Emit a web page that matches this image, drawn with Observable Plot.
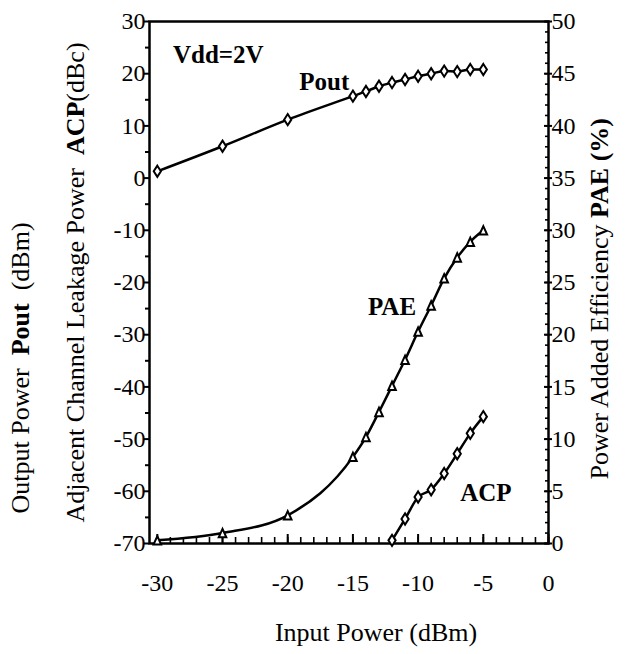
<!DOCTYPE html>
<html>
<head>
<meta charset="utf-8">
<script src="https://cdn.jsdelivr.net/npm/d3@7"></script>
<script src="https://cdn.jsdelivr.net/npm/@observablehq/plot@0.6"></script>
<style>
  html, body { margin: 0; padding: 0; background: #fff; }
  #chart { width: 629px; height: 654px; font-family: 'Liberation Serif'; }
  #chart svg, #chart svg text, #chart svg tspan { font-family: 'Liberation Serif' !important; }
</style>
</head>
<body>
<div id="chart"></div>
<script>
// ---- data ----
const inputPower = [-30, -25, -20, -15, -14, -13, -12, -11, -10, -9, -8, -7, -6, -5];
const poutValues = [1.3, 6.1, 11.2, 15.7, 16.6, 17.6, 18.3, 18.9, 19.5, 20.0, 20.5, 20.4, 20.8, 20.8];
const paeValues  = [0.3, 1.0, 2.7, 8.3, 10.2, 12.6, 15.1, 17.6, 20.3, 22.8, 25.4, 27.4, 28.9, 30.0];
const acpInput   = [-12, -11, -10, -9, -8, -7, -6, -5];
const acpValues  = [-69.4, -65.3, -61.1, -59.7, -56.6, -52.8, -48.9, -45.7];

const xTicks     = [-30, -25, -20, -15, -10, -5, 0];
const leftTicks  = [-70, -60, -50, -40, -30, -20, -10, 0, 10, 20, 30];
const paeTicks   = [0, 5, 10, 15, 20, 25, 30, 35, 40, 45, 50];

const labelText = ["Vdd=2V", "Pout", "PAE", "ACP"];
const labelX    = [-28.8, -17.2, -12.0, -4.8];
const labelY    = [23.5, 18.4, -24.7, -60.4];
const labelAnchor = ["start", "middle", "middle", "middle"];

// title pieces: [text, bold]
const leftTitle1 = [["Output Power  ", false], ["Pout", true], ["  (dBm)", false]];
const leftTitle2 = [["Adjacent Channel Leakage Power  ", false], ["ACP", true], ["(dBc)", false]];
const rightTitle = [["Power Added Efficiency ", false], ["PAE (%)", true]];
const xTitle = "Input Power (dBm)";

// ---- helpers ----
const leftMin = -70, leftMax = 30, paeMax = 50;
const paeToLeft = p => leftMin + p * (leftMax - leftMin) / paeMax;
const hyphen = d => String(d);

const pout = inputPower.map((x, i) => ({x, y: poutValues[i]}));
const pae  = inputPower.map((x, i) => ({x, y: paeToLeft(paeValues[i])}));
const acp  = acpInput.map((x, i) => ({x, y: acpValues[i]}));
const labels = labelText.map((t, i) => ({t, x: labelX[i], y: labelY[i], a: labelAnchor[i]}));

const tallDiamond = {
  draw(ctx, size) {
    const r = Math.sqrt(size / Math.PI);
    const w = r * 0.9, h = r * 1.4;
    ctx.moveTo(0, -h); ctx.lineTo(w, 0); ctx.lineTo(0, h); ctx.lineTo(-w, 0); ctx.closePath();
  }
};
const triangleUp = {
  draw(ctx, size) {
    const r = Math.sqrt(size / Math.PI);
    const w = r * 0.95, h = r * 1.05;
    ctx.moveTo(0, -h); ctx.lineTo(w, h); ctx.lineTo(-w, h); ctx.closePath();
  }
};

const minorX = d3.range(-30, 1, 1);
const minorLeft = d3.range(-65, 30, 10);
const minorRight = d3.range(0, 51, 1).map(paeToLeft);
const majorRight = paeTicks.map(paeToLeft);

const FONT = "Liberation Serif";

const plot = Plot.plot({
  width: 629,
  height: 654,
  marginLeft: 149,
  marginRight: 81,
  marginTop: 21,
  marginBottom: 111,
  x: {domain: [-30.6, 0]},
  y: {domain: [leftMin, leftMax]},
  style: {color: "black", background: "white", overflow: "visible"},
  marks: [
    // axes ticks
    Plot.axisX({ticks: minorX, tickSize: 6, dy: -6, text: null, strokeWidth: 1.6, label: null}),
    Plot.axisX({ticks: xTicks, tickSize: 9, dy: -9, text: null, strokeWidth: 2, label: null}),
    Plot.axisX({ticks: xTicks, tickSize: 0, tickPadding: 30, fontSize: 24, tickFormat: hyphen, label: null}),
    Plot.axisY({anchor: "left", ticks: leftTicks, tickSize: 6, tickPadding: -2, fontSize: 24, tickFormat: hyphen, strokeWidth: 2, label: null}),
    Plot.axisY({anchor: "left", ticks: minorLeft, tickSize: 4, text: null, strokeWidth: 2, label: null}),
    Plot.axisY({anchor: "right", ticks: minorRight, tickSize: 4, dx: -4, text: null, strokeWidth: 1.6, label: null}),
    Plot.axisY({anchor: "right", ticks: majorRight, tickSize: 8, dx: -5, text: null, strokeWidth: 2, label: null}),
    Plot.axisY({anchor: "right", ticks: majorRight, tickSize: 0, tickPadding: 3, fontSize: 24,
      tickFormat: d => String(Math.round((d - leftMin) * paeMax / (leftMax - leftMin))), label: null}),
    Plot.frame({strokeWidth: 2.5}),
    // data
    Plot.line(pout, {x: "x", y: "y", curve: "monotone-x", stroke: "black", strokeWidth: 2.5}),
    Plot.line(pae, {x: "x", y: "y", curve: "monotone-x", stroke: "black", strokeWidth: 2.5}),
    Plot.line(acp, {x: "x", y: "y", curve: "monotone-x", stroke: "black", strokeWidth: 2.5}),
    Plot.dot(pout, {x: "x", y: "y", symbol: tallDiamond, r: 4, fill: "white", stroke: "black", strokeWidth: 2}),
    Plot.dot(pae, {x: "x", y: "y", symbol: triangleUp, r: 4, fill: "white", stroke: "black", strokeWidth: 2}),
    Plot.dot(acp, {x: "x", y: "y", symbol: tallDiamond, r: 4, fill: "white", stroke: "black", strokeWidth: 2}),
    // annotations
    Plot.text(labels.filter(d => d.a === "start"), {x: "x", y: "y", text: "t", textAnchor: "start", fontSize: 25, fontWeight: "bold", fill: "black"}),
    Plot.text(labels.filter(d => d.a !== "start"), {x: "x", y: "y", text: "t", textAnchor: "middle", fontSize: 25, fontWeight: "bold", fill: "black"}),
    // titles
    Plot.text(["__T1__"], {frameAnchor: "bottom-left", rotate: -90, textAnchor: "start", dx: -121, dy: -30, fontSize: 26, fill: "black"}),
    Plot.text(["__T2__"], {frameAnchor: "left", rotate: -90, textAnchor: "middle", dx: -74, dy: 0, fontSize: 26, fill: "black"}),
    Plot.text(["__T3__"], {frameAnchor: "bottom-right", rotate: -90, textAnchor: "start", dx: 59, dy: -64, fontSize: 26, fill: "black"}),
    Plot.text([xTitle], {frameAnchor: "bottom", dx: 27, dy: 97, fontSize: 26, fill: "black"})
  ]
});

// rich text for titles (bold pieces)
function richify(svg, marker, parts) {
  svg.querySelectorAll("text").forEach(t => {
    if (t.textContent === marker) {
      t.textContent = "";
      t.setAttribute("style", "white-space: pre");
      parts.forEach(([s, bold]) => {
        const ts = document.createElementNS("http://www.w3.org/2000/svg", "tspan");
        ts.textContent = s;
        if (bold) ts.setAttribute("font-weight", "bold");
        t.appendChild(ts);
      });
    }
  });
}
richify(plot, "__T1__", leftTitle1);
richify(plot, "__T2__", leftTitle2);
richify(plot, "__T3__", rightTitle);

plot.style.fontFamily = FONT;
plot.querySelectorAll("g, text").forEach(el => el.setAttribute("font-family", FONT));

document.getElementById("chart").appendChild(plot);
</script>
</body>
</html>
